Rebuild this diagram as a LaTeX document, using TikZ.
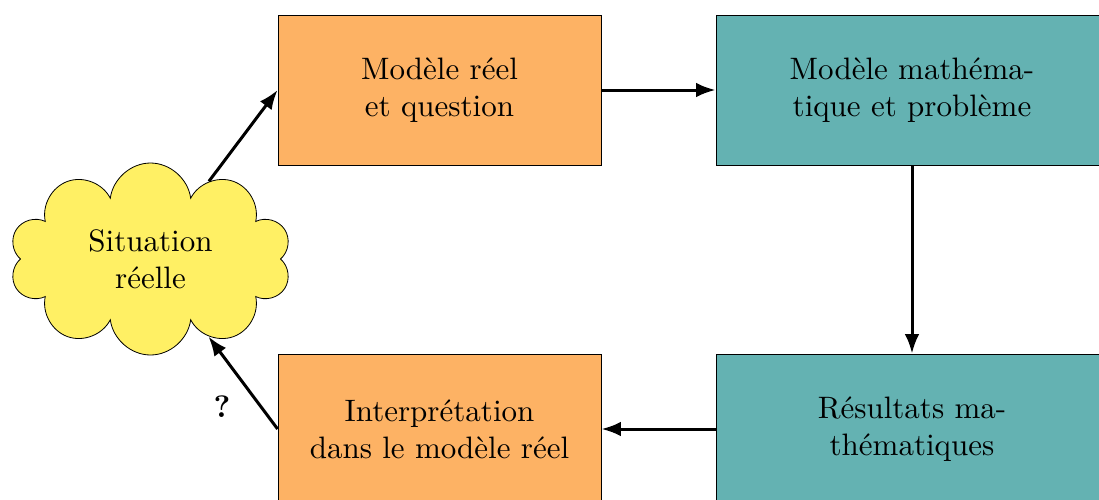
\documentclass[tikz,border=0pt]{standalone}
\usepackage{fontspec}
\setmainfont{lmroman10}[Extension=.otf, UprightFont=*-regular, BoldFont=*-bold, ItalicFont=*-italic]
\usetikzlibrary{shapes.symbols,arrows.meta}
\definecolor{boxorange}{RGB}{253,178,100}
\definecolor{boxteal}{RGB}{100,178,178}
\definecolor{cloudyellow}{RGB}{255,240,100}
\begin{document}
\begin{tikzpicture}[x=0.5pt,y=-0.5pt,
  every node/.style={font=\fontsize{15.5}{18.6}\selectfont},
  basebox/.style={draw, line width=0.4pt, align=center, inner sep=0pt, minimum height=75pt},
  orangebox/.style={basebox, fill=boxorange, minimum width=161.5pt},
  tealbox/.style={basebox, fill=boxteal, minimum width=196pt},
  cloudnode/.style={cloud, draw, line width=0.4pt, fill=cloudyellow, cloud puffs=10, cloud puff arc=165, aspect=2, minimum width=141pt, minimum height=96pt, align=center, inner sep=0pt},
  arrow/.style={-{Latex}, line width=1.5pt}]
\clip (0,0) rectangle (1099,499);
\node[cloudnode] (sit) at (150.5,259) {Situation\\réelle};
\node[orangebox] (mr) at (439.5,90) {Modèle réel\\et question};
\node[tealbox] (mm) at (912,90) {Modèle mathéma-\\tique et problème};
\node[tealbox] (rm) at (912,429) {Résultats ma-\\thématiques};
\node[orangebox] (ip) at (439.5,429) {Interprétation\\dans le modèle réel};
\draw[arrow] (sit) -- (mr.west);
\draw[arrow] (mr.east) -- (mm.west);
\draw[arrow] (mm.south) -- (rm.north);
\draw[arrow] (rm.west) -- (ip.east);
\draw[arrow] (ip.west) -- (sit);
\node[font=\fontsize{15.5}{18.6}\selectfont\bfseries] (q) at (222,407) {?};
\end{tikzpicture}
\end{document}
